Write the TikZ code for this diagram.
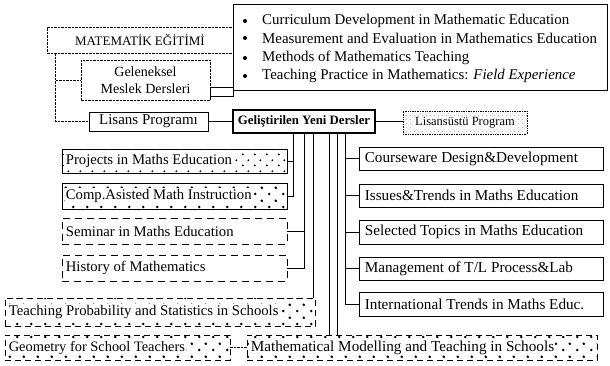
\documentclass[tikz,border=0pt]{standalone}
\usepackage{fontspec}
\setmainfont{Liberation Serif}
\usetikzlibrary{patterns}
% sparse staggered dot fills for the "new course" boxes
\pgfdeclarepatternformonly{bigdots}{\pgfqpoint{0pt}{0pt}}{\pgfqpoint{14pt}{13pt}}{\pgfqpoint{14pt}{13pt}}{%
  \pgfpathcircle{\pgfqpoint{3.5pt}{3.2pt}}{1.5pt}\pgfpathcircle{\pgfqpoint{10.5pt}{9.7pt}}{1.5pt}\pgfusepath{fill}}
\pgfdeclarepatternformonly{smalldots}{\pgfqpoint{0pt}{0pt}}{\pgfqpoint{12pt}{11pt}}{\pgfqpoint{12pt}{11pt}}{%
  \pgfpathcircle{\pgfqpoint{3pt}{2.7pt}}{1.1pt}\pgfpathcircle{\pgfqpoint{9pt}{8.2pt}}{1.1pt}\pgfusepath{fill}}
\pgfdeclarepatternformonly{stipple}{\pgfqpoint{0pt}{0pt}}{\pgfqpoint{4pt}{4pt}}{\pgfqpoint{4pt}{4pt}}{%
  \pgfpathcircle{\pgfqpoint{1pt}{1pt}}{0.45pt}\pgfpathcircle{\pgfqpoint{3pt}{3pt}}{0.45pt}\pgfusepath{fill}}
\begin{document}
\begin{tikzpicture}[x=1pt,y=-1pt,
  frame/.style={draw, rectangle, inner sep=0pt, line width=0.7pt},
  solidbox/.style={frame},
  dashbox/.style={frame, dash pattern=on 7pt off 5pt},
  fdashbox/.style={frame, dash pattern=on 2.5pt off 1pt},
  dotbox/.style={frame, pattern=smalldots},
  heavydotbox/.style={frame, pattern=bigdots},
  dashdotbox/.style={frame, dash pattern=on 6pt off 4pt, pattern=bigdots},
  boldbox/.style={frame, line width=1.2pt},
  greybox/.style={frame, densely dotted, line width=0.6pt, pattern=stipple, pattern color=black!45},
  lbl/.style={anchor=west, inner sep=1pt, fill=white},
  plain/.style={anchor=west, inner sep=0pt},
  conn/.style={line width=0.7pt},
  fconn/.style={line width=0.7pt, dash pattern=on 2.5pt off 1pt},
  itemfont/.style={font=\fontsize{14.9}{17}\selectfont},
  rightfont/.style={font=\fontsize{15.2}{17}\selectfont},
  leftfont/.style={font=\fontsize{14.7}{17}\selectfont},
  bottomfont/.style={font=\fontsize{15.2}{17}\selectfont},
  bul/.style={circle, fill, inner sep=0pt, minimum size=4pt}
]
\useasboundingbox (0,0) rectangle (610,365);

% ---- upper block ----
\node[solidbox, minimum width=374pt, minimum height=86pt] (bul) at (420,47) {};
\node[fdashbox, minimum width=186pt, minimum height=26pt, font=\fontsize{13}{14}\selectfont] (mat) at (140,40)
  {MATEMATİK EĞİTİMİ};
\node[fdashbox, minimum width=129pt, minimum height=40pt, align=center,
      font=\fontsize{14}{17}\selectfont] (gel) at (145.5,80)
  {Geleneksel\\Meslek Dersleri};
\node[solidbox, minimum width=23pt, minimum height=9pt] (link) at (221.5,91.5) {};
\node[solidbox, minimum width=119pt, minimum height=19pt, font=\fontsize{15}{16}\selectfont] (lis) at (148.5,121.5)
  {Lisans Programı};
\node[boldbox, minimum width=142pt, minimum height=23pt, font=\fontsize{12.8}{15}\selectfont\bfseries] (gey) at (304,121.5)
  {Geliştirilen Yeni Dersler};
\node[greybox, minimum width=124pt, minimum height=23pt] (lsu) at (465,122.5) {};
\node[inner sep=1pt, fill=white, font=\fontsize{12.5}{15}\selectfont] (lsutxt) at (lsu.center)
  {Lisansüstü Program};

% bullet list
\node[bul] (d1) at (245,21) {};
\node[bul] (d2) at (245,38) {};
\node[bul] (d3) at (245,58) {};
\node[bul] (d4) at (245,76) {};
\node[plain, itemfont] (b1) at (262,21) {Curriculum Development in Mathematic Education};
\node[plain, itemfont] (b2) at (262,38) {Measurement and Evaluation in Mathematics Education};
\node[plain, itemfont] (b3) at (262,58) {Methods of Mathematics Teaching};
\node[plain, itemfont] (b4) at (262,76) {Teaching Practice in Mathematics: \textit{Field Experience}};

% ---- left column ----
\node[dotbox, minimum width=225pt, minimum height=24pt] (proj) at (174.5,161) {};
\node[lbl, leftfont] (projtxt) at ([xshift=3pt]proj.west) {Projects in Maths Education};
\node[heavydotbox, minimum width=225pt, minimum height=26pt] (comp) at (174.5,196) {};
\node[lbl, leftfont] (comptxt) at ([xshift=3pt]comp.west) {Comp.Asisted Math Instruction};
\node[dashbox, minimum width=225pt, minimum height=26pt] (sem) at (174.5,231) {};
\node[plain, leftfont] (semtxt) at ([xshift=4pt]sem.west) {Seminar in Maths Education};
\node[dashbox, minimum width=225pt, minimum height=26pt] (hist) at (174.5,268) {};
\node[plain, leftfont] (histtxt) at ([xshift=4pt]hist.west) {History of Mathematics};
\node[dashdotbox, minimum width=310pt, minimum height=28pt] (prob) at (160,312) {};
\node[lbl, leftfont] (probtxt) at ([xshift=3pt]prob.west) {Teaching Probability and Statistics in Schools};
\node[dashdotbox, minimum width=225pt, minimum height=25pt] (geo) at (117.5,347.5) {};
\node[lbl, font=\fontsize{14.4}{17}\selectfont] (geotxt) at ([xshift=3pt]geo.west) {Geometry for School Teachers};
\node[dashdotbox, minimum width=350pt, minimum height=25pt] (mod) at (422,347.5) {};
\node[lbl, bottomfont] (modtxt) at ([xshift=3pt]mod.west) {Mathematical Modelling and Teaching in Schools};

% ---- right column ----
\node[solidbox, minimum width=244pt, minimum height=23pt] (cw) at (481,158.5) {};
\node[plain, rightfont] (cwtxt) at ([xshift=6pt]cw.west) {Courseware Design\&Development};
\node[solidbox, minimum width=244pt, minimum height=23pt] (iss) at (481,195.5) {};
\node[plain, rightfont] (isstxt) at ([xshift=6pt]iss.west) {Issues\&Trends in Maths Education};
\node[solidbox, minimum width=244pt, minimum height=24pt] (sel) at (481,232) {};
\node[plain, rightfont] (seltxt) at ([xshift=6pt]sel.west) {Selected Topics in Maths Education};
\node[solidbox, minimum width=244pt, minimum height=23pt] (man) at (481,268.5) {};
\node[plain, rightfont] (mantxt) at ([xshift=6pt]man.west) {Management of T/L Process\&Lab};
\node[solidbox, minimum width=244pt, minimum height=24pt] (intl) at (481,304) {};
\node[plain, rightfont] (intltxt) at ([xshift=6pt]intl.west) {International Trends in Maths Educ.};

% ---- connectors ----
\coordinate (spine) at ([xshift=9pt]mat.south west);
\draw[fconn] (spine) |- (lis.west);
\draw[fconn] (spine |- gel.west) -- (gel.west);
\draw[conn] (lis.east) -- (gey.west);
\draw[conn] (gey.east) -- (gey.east -| lsu.west);

\coordinate (t1) at (293,133);
\coordinate (t2) at (304,133);
\coordinate (t3) at (313,133);
\coordinate (t4) at (329,133);
\coordinate (t5) at (337,133);
\coordinate (t6) at (345,133);
\draw[conn] (t1) |- (proj.east);
\draw[conn] (t1) |- (comp.east);
\draw[conn] (t2) |- (sem.east);
\draw[conn] (t2) |- (hist.east);
\draw[conn] (t3) -- (t3 |- prob.north);
\draw[conn] (t4) -- (t4 |- mod.north);
\draw[conn] (t5) -- (t5 |- mod.north);
\draw[conn] (t6) |- (cw.west);
\draw[conn] (t6) |- (iss.west);
\draw[conn] (t6) |- (sel.west);
\draw[conn] (t6) |- (man.west);
\draw[conn] (t6) |- (intl.west);
\draw[fconn] (geo.east) -- (mod.west);
\end{tikzpicture}
\end{document}
